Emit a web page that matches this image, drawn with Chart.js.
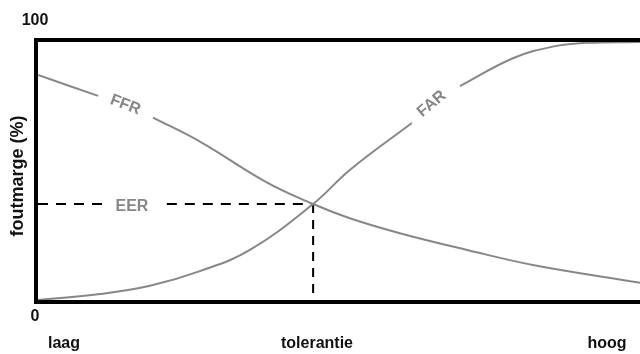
<!DOCTYPE html>
<html>
<head>
<meta charset="utf-8">
<script src="https://cdn.jsdelivr.net/npm/chart.js@4.4.1/dist/chart.umd.min.js"></script>
<style>
  body { margin: 0; background: #fff; }
  canvas { display: block; }
</style>
</head>
<body>
<canvas id="errChart" width="640" height="354"></canvas>
<script>
// tolerance on x (0 = laag, 100 = hoog), error margin in % on y
const ffrX = [0, 10, 14.5, 19.1, 26.9, 38, 45.7, 51.8, 60.1, 71.3, 82.2, 100];
const ffrY = [87.2, 79.1, null, 70.7, 61.4, 45.6, 37.2, 31.7, 25.9, 19.4, 13.6, 6.7];

const farX = [0, 10.3, 18.6, 26.9, 35.2, 45.7, 51.8, 62.1, 66, 70.1, 78.9, 85.5, 91.2, 100];
const farY = [0, 2.3, 5.5, 11.2, 19.4, 37.2, 50.4, 68.6, null, 82.9, 93.7, 98.2, 99.7, 100];

// equal error rate point + dashed guides
const eerX = 45.7;
const eerY = 37.2;
const eerGuideX = [0, 11.5, 15.6, 21.4, eerX];
const eerGuideY = [eerY, eerY, null, eerY, eerY];

const curveLabels = ['FFR', 'FAR', 'EER'];
const curveLabelX = [14.5, 65.4, 15.6];
const curveLabelY = [75.6, 76, 36.2];

const yTickLabels = ['0', '100'];
const xTickLabels = ['laag', 'tolerantie', 'hoog'];
const yTitle = 'foutmarge (%)';

const toPoints = (xs, ys) => xs.map((x, i) => ({ x: x, y: ys[i] }));

const GRAY = '#878787';
const FONT = '"Liberation Sans", Arial, Helvetica, sans-serif';

const frameAndText = {
  id: 'frameAndText',
  beforeDatasetsDraw(chart) {
    const { ctx, chartArea } = chart;
    const { left, top, right, bottom } = chartArea;
    ctx.save();
    ctx.strokeStyle = '#000';
    ctx.lineWidth = 4;
    ctx.lineJoin = 'miter';
    ctx.beginPath();
    ctx.moveTo(right, top - 2);
    ctx.lineTo(left - 2, top - 2);
    ctx.lineTo(left - 2, bottom + 2);
    ctx.lineTo(right, bottom + 2);
    ctx.stroke();
    ctx.restore();
  },
  afterDraw(chart) {
    const { ctx, chartArea, scales } = chart;
    const { left, top, right, bottom } = chartArea;
    ctx.save();
    ctx.font = 'bold 16px ' + FONT;
    ctx.fillStyle = '#111';
    ctx.textBaseline = 'middle';
    ctx.textAlign = 'center';
    ctx.fillText(yTickLabels[1], left - 3, top - 21);
    ctx.fillText(yTickLabels[0], left - 3, bottom + 17);
    ctx.fillText(xTickLabels[0], left + 26, bottom + 44);
    ctx.fillText(xTickLabels[1], (left + right) / 2 - 22, bottom + 44);
    ctx.fillText(xTickLabels[2], right - 33, bottom + 44);

    // axis title, rotated
    ctx.save();
    ctx.font = 'bold 18px ' + FONT;
    ctx.translate(18, (top + bottom) / 2 + 5);
    ctx.rotate(-Math.PI / 2);
    ctx.fillText(yTitle, 0, 0);
    ctx.restore();

    const angles = [21, -40, 0];
    ctx.fillStyle = GRAY;
    curveLabels.forEach((txt, i) => {
      const px = scales.x.getPixelForValue(curveLabelX[i]);
      const py = scales.y.getPixelForValue(curveLabelY[i]);
      ctx.save();
      ctx.translate(px, py);
      ctx.rotate(angles[i] * Math.PI / 180);
      ctx.fillText(txt, 0, 0);
      ctx.restore();
    });
    ctx.restore();
  }
};

new Chart(document.getElementById('errChart'), {
  type: 'line',
  data: {
    datasets: [
      {
        label: 'FFR',
        data: toPoints(ffrX, ffrY),
        borderColor: GRAY,
        borderWidth: 2,
        tension: 0.4,
      },
      {
        label: 'FAR',
        data: toPoints(farX, farY),
        borderColor: GRAY,
        borderWidth: 2,
        tension: 0.4,
      },
      {
        label: 'EER horizontal',
        data: toPoints(eerGuideX, eerGuideY),
        borderColor: '#000',
        borderWidth: 2,
        borderDash: [10, 8],
        tension: 0,
      },
      {
        label: 'EER vertical',
        data: toPoints([eerX, eerX], [eerY, 0]),
        borderColor: '#000',
        borderWidth: 2,
        borderDash: [9, 7],
        tension: 0,
      },
    ],
  },
  options: {
    responsive: false,
    animation: false,
    devicePixelRatio: 1,
    spanGaps: false,
    layout: { padding: 0 },
    elements: { point: { radius: 0, hoverRadius: 0 } },
    plugins: {
      legend: { display: false },
      tooltip: { enabled: false },
    },
    scales: {
      x: {
        type: 'linear',
        position: 'bottom',
        min: 0,
        max: 100,
        grid: { display: false },
        border: { display: false },
        ticks: { display: false },
        afterFit: (s) => { s.height = 54; },
      },
      x2: {
        type: 'linear',
        position: 'top',
        min: 0,
        max: 100,
        grid: { display: false },
        border: { display: false },
        ticks: { display: false },
        afterFit: (s) => { s.height = 42; },
      },
      y: {
        type: 'linear',
        position: 'left',
        min: 0,
        max: 100,
        grid: { display: false },
        border: { display: false },
        ticks: { display: false },
        afterFit: (s) => { s.width = 38; },
      },
    },
  },
  plugins: [frameAndText],
});
</script>
</body>
</html>
